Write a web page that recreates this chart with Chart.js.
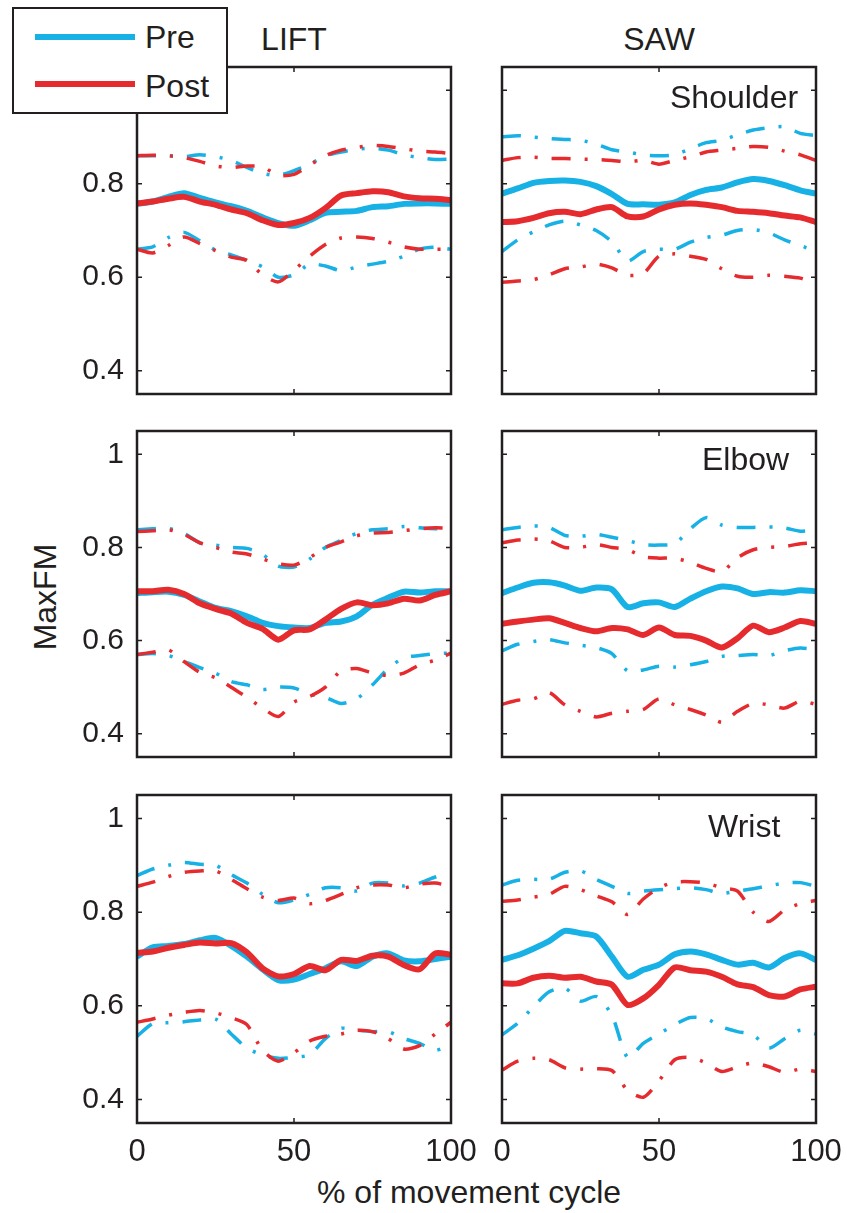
<!DOCTYPE html>
<html>
<head>
<meta charset="utf-8">
<script src="https://cdn.jsdelivr.net/npm/chart.js@4.4.1/dist/chart.umd.min.js"></script>
<style>
  html, body { margin: 0; padding: 0; background: #fff; }
  body { width: 847px; height: 1213px; position: relative; overflow: hidden;
         font-family: "Liberation Sans", Arial, Helvetica, sans-serif; color: #231f20; }
  canvas { position: absolute; }
  .lbl { position: absolute; font-size: 32px; line-height: 32px; white-space: nowrap; }
  .center { text-align: center; width: 300px; }
  #legend { position: absolute; left: 12px; top: 7px; width: 216px; height: 107px;
            box-sizing: border-box; border: 2px solid #231f20; background: #fff; z-index: 5; }
  .swatch { position: absolute; left: 21px; width: 100px; height: 6px; }
</style>
</head>
<body>

<div id="legend">
  <div class="swatch" style="top:25px;background:#17b1e6"></div>
  <div class="lbl" style="left:131px;top:12px">Pre</div>
  <div class="swatch" style="top:72px;background:#e62b2f"></div>
  <div class="lbl" style="left:131px;top:61px">Post</div>
</div>

<div class="lbl center" style="left:144px;top:23px">LIFT</div>
<div class="lbl center" style="left:509px;top:23px">SAW</div>
<div class="lbl" style="left:670px;top:81px;z-index:4">Shoulder</div>
<div class="lbl" style="left:702px;top:443px;z-index:4">Elbow</div>
<div class="lbl" style="left:708px;top:810px;z-index:4">Wrist</div>
<div class="lbl center" style="left:317px;top:1176px">% of movement cycle</div>
<div class="lbl" style="left:45px;top:597px;transform:translate(-50%,-50%) rotate(-90deg)">MaxFM</div>

<script>
const PRE = '#17b1e6'
const POST = '#e62b2f'
const INK = '#231f20'

// x positions (% of movement cycle)
const pct = [0, 5, 10, 15, 20, 25, 30, 35, 40, 45, 50, 55, 60, 65, 70, 75, 80, 85, 90, 95, 100]
const xTicks = [0, 50, 100]
const yTicks = [0.4, 0.6, 0.8, 1]

// LIFT - shoulder
const liftShoulderPreMean = [0.757, 0.762, 0.772, 0.78, 0.77, 0.76, 0.752, 0.742, 0.728, 0.716, 0.71, 0.722, 0.738, 0.74, 0.742, 0.75, 0.752, 0.757, 0.758, 0.758, 0.757]
const liftShoulderPreUp = [0.86, 0.86, 0.86, 0.858, 0.862, 0.858, 0.85, 0.835, 0.822, 0.818, 0.828, 0.842, 0.86, 0.868, 0.874, 0.876, 0.872, 0.862, 0.856, 0.852, 0.853]
const liftShoulderPreLow = [0.66, 0.665, 0.685, 0.696, 0.678, 0.658, 0.648, 0.636, 0.622, 0.6, 0.605, 0.628, 0.624, 0.614, 0.622, 0.628, 0.634, 0.645, 0.66, 0.664, 0.66]
const liftShoulderPostMean = [0.758, 0.762, 0.768, 0.772, 0.762, 0.755, 0.745, 0.737, 0.722, 0.712, 0.716, 0.727, 0.748, 0.775, 0.78, 0.784, 0.782, 0.773, 0.769, 0.768, 0.765]
const liftShoulderPostUp = [0.86, 0.861, 0.86, 0.856, 0.848, 0.838, 0.835, 0.838, 0.836, 0.818, 0.82, 0.84, 0.86, 0.872, 0.878, 0.882, 0.88, 0.875, 0.87, 0.868, 0.865]
const liftShoulderPostLow = [0.66, 0.652, 0.668, 0.686, 0.672, 0.657, 0.643, 0.636, 0.605, 0.59, 0.615, 0.645, 0.67, 0.684, 0.686, 0.683, 0.675, 0.665, 0.66, 0.66, 0.66]

// SAW - shoulder
const sawShoulderPreMean = [0.779, 0.79, 0.802, 0.806, 0.807, 0.804, 0.795, 0.778, 0.757, 0.756, 0.755, 0.76, 0.776, 0.787, 0.792, 0.803, 0.81, 0.806, 0.797, 0.786, 0.779]
const sawShoulderPreUp = [0.9, 0.903, 0.9, 0.897, 0.895, 0.893, 0.885, 0.873, 0.868, 0.862, 0.86, 0.862, 0.875, 0.888, 0.893, 0.905, 0.915, 0.92, 0.922, 0.908, 0.903]
const sawShoulderPreLow = [0.655, 0.68, 0.697, 0.712, 0.72, 0.712, 0.7, 0.676, 0.635, 0.655, 0.66, 0.66, 0.675, 0.685, 0.69, 0.7, 0.702, 0.695, 0.68, 0.668, 0.655]
const sawShoulderPostMean = [0.718, 0.72, 0.727, 0.737, 0.74, 0.735, 0.745, 0.75, 0.73, 0.73, 0.745, 0.755, 0.758, 0.755, 0.75, 0.742, 0.74, 0.737, 0.732, 0.728, 0.718]
const sawShoulderPostUp = [0.85, 0.856, 0.857, 0.854, 0.854, 0.853, 0.852, 0.85, 0.847, 0.85, 0.842, 0.85, 0.858, 0.868, 0.872, 0.876, 0.88, 0.878, 0.87, 0.862, 0.85]
const sawShoulderPostLow = [0.589, 0.592, 0.595, 0.605, 0.618, 0.622, 0.628, 0.62, 0.604, 0.608, 0.645, 0.65, 0.645, 0.638, 0.618, 0.602, 0.6, 0.604, 0.602, 0.598, 0.586]

// LIFT - elbow
const liftElbowPreMean = [0.702, 0.704, 0.705, 0.698, 0.684, 0.67, 0.663, 0.652, 0.638, 0.631, 0.628, 0.627, 0.638, 0.641, 0.652, 0.677, 0.692, 0.705, 0.703, 0.706, 0.706]
const liftElbowPreUp = [0.838, 0.84, 0.841, 0.83, 0.81, 0.805, 0.8, 0.798, 0.785, 0.76, 0.758, 0.775, 0.8, 0.815, 0.83, 0.838, 0.84, 0.845, 0.842, 0.84, 0.841]
const liftElbowPreLow = [0.57, 0.572, 0.568, 0.555, 0.542, 0.53, 0.512, 0.505, 0.495, 0.5, 0.498, 0.485, 0.478, 0.465, 0.475, 0.505, 0.54, 0.563, 0.568, 0.572, 0.573]
const liftElbowPostMean = [0.706, 0.706, 0.709, 0.7, 0.68, 0.668, 0.658, 0.638, 0.625, 0.602, 0.622, 0.624, 0.645, 0.668, 0.682, 0.676, 0.68, 0.69, 0.686, 0.698, 0.706]
const liftElbowPostUp = [0.834, 0.836, 0.838, 0.828, 0.81, 0.8, 0.79, 0.786, 0.775, 0.765, 0.762, 0.778, 0.8, 0.812, 0.825, 0.831, 0.832, 0.836, 0.84, 0.842, 0.841]
const liftElbowPostLow = [0.57, 0.575, 0.58, 0.555, 0.532, 0.52, 0.5, 0.478, 0.455, 0.437, 0.468, 0.48, 0.5, 0.535, 0.54, 0.53, 0.525, 0.53, 0.548, 0.558, 0.573]

// SAW - elbow
const sawElbowPreMean = [0.702, 0.714, 0.724, 0.725, 0.718, 0.707, 0.714, 0.71, 0.672, 0.68, 0.682, 0.672, 0.69, 0.706, 0.716, 0.712, 0.7, 0.704, 0.703, 0.708, 0.706]
const sawElbowPreUp = [0.838, 0.843, 0.846, 0.843, 0.826, 0.824, 0.828, 0.822, 0.815, 0.806, 0.805, 0.808, 0.84, 0.864, 0.848, 0.843, 0.843, 0.844, 0.842, 0.835, 0.838]
const sawElbowPreLow = [0.578, 0.592, 0.598, 0.602, 0.595, 0.59, 0.585, 0.572, 0.535, 0.537, 0.545, 0.543, 0.548, 0.555, 0.566, 0.568, 0.57, 0.568, 0.578, 0.584, 0.58]
const sawElbowPostMean = [0.636, 0.641, 0.645, 0.648, 0.638, 0.627, 0.62, 0.627, 0.624, 0.612, 0.628, 0.612, 0.61, 0.6, 0.585, 0.605, 0.632, 0.618, 0.628, 0.642, 0.636]
const sawElbowPostUp = [0.81, 0.816, 0.818, 0.814, 0.8, 0.8, 0.806, 0.8, 0.795, 0.78, 0.777, 0.777, 0.768, 0.755, 0.748, 0.778, 0.795, 0.8, 0.802, 0.808, 0.81]
const sawElbowPostLow = [0.463, 0.472, 0.475, 0.488, 0.462, 0.448, 0.436, 0.444, 0.448, 0.452, 0.475, 0.462, 0.452, 0.44, 0.425, 0.448, 0.465, 0.462, 0.455, 0.47, 0.463]

// LIFT - wrist
const liftWristPreMean = [0.705, 0.725, 0.728, 0.732, 0.74, 0.745, 0.728, 0.705, 0.678, 0.655, 0.656, 0.668, 0.68, 0.695, 0.685, 0.705, 0.712, 0.697, 0.695, 0.7, 0.705]
const liftWristPreUp = [0.878, 0.892, 0.9, 0.906, 0.902, 0.9, 0.88, 0.862, 0.838, 0.82, 0.826, 0.838, 0.852, 0.852, 0.845, 0.862, 0.862, 0.856, 0.862, 0.875, 0.882]
const liftWristPreLow = [0.535, 0.562, 0.564, 0.566, 0.57, 0.572, 0.54, 0.51, 0.495, 0.488, 0.49, 0.496, 0.53, 0.552, 0.548, 0.545, 0.545, 0.53, 0.52, 0.505, 0.518]
const liftWristPostMean = [0.713, 0.716, 0.724, 0.73, 0.735, 0.733, 0.734, 0.714, 0.68, 0.663, 0.668, 0.685, 0.676, 0.698, 0.696, 0.707, 0.705, 0.687, 0.678, 0.712, 0.709]
const liftWristPostUp = [0.855, 0.864, 0.876, 0.885, 0.888, 0.888, 0.87, 0.85, 0.832, 0.825, 0.83, 0.818, 0.825, 0.838, 0.852, 0.858, 0.858, 0.852, 0.86, 0.862, 0.855]
const liftWristPostLow = [0.565, 0.572, 0.58, 0.586, 0.59, 0.585, 0.575, 0.56, 0.505, 0.482, 0.5, 0.525, 0.535, 0.54, 0.548, 0.545, 0.53, 0.508, 0.515, 0.54, 0.565]

// SAW - wrist
const sawWristPreMean = [0.698, 0.708, 0.722, 0.738, 0.76, 0.755, 0.748, 0.705, 0.662, 0.677, 0.688, 0.71, 0.716, 0.71, 0.698, 0.688, 0.692, 0.682, 0.702, 0.712, 0.698]
const sawWristPreUp = [0.858, 0.868, 0.87, 0.87, 0.885, 0.888, 0.87, 0.855, 0.84, 0.845, 0.848, 0.85, 0.852, 0.848, 0.84, 0.845, 0.85, 0.856, 0.862, 0.863, 0.855]
const sawWristPreLow = [0.538, 0.563, 0.598, 0.63, 0.638, 0.61, 0.62, 0.58, 0.49, 0.52, 0.54, 0.56, 0.575, 0.573, 0.555, 0.545, 0.538, 0.51, 0.53, 0.548, 0.54]
const sawWristPostMean = [0.648, 0.648, 0.66, 0.664, 0.66, 0.662, 0.652, 0.645, 0.602, 0.616, 0.645, 0.682, 0.676, 0.673, 0.662, 0.646, 0.64, 0.623, 0.62, 0.635, 0.641]
const sawWristPostUp = [0.823, 0.826, 0.832, 0.838, 0.855, 0.848, 0.835, 0.822, 0.795, 0.828, 0.852, 0.864, 0.865, 0.862, 0.852, 0.845, 0.8, 0.78, 0.805, 0.818, 0.825]
const sawWristPostLow = [0.463, 0.482, 0.488, 0.485, 0.468, 0.465, 0.466, 0.462, 0.42, 0.405, 0.44, 0.485, 0.49, 0.478, 0.46, 0.47, 0.478, 0.47, 0.458, 0.465, 0.46]

// panel frame on the page (pixels)
const cols = [[137, 451], [502, 816]]
const rows = [[67, 394], [431, 757], [795, 1123]]
const PAD_L = 80, PAD_T = 20, PAD_R = 30, PAD_B = 50

const panels = [
  { col: 0, row: 0, pre: [liftShoulderPreMean, liftShoulderPreUp, liftShoulderPreLow], post: [liftShoulderPostMean, liftShoulderPostUp, liftShoulderPostLow] },
  { col: 1, row: 0, pre: [sawShoulderPreMean, sawShoulderPreUp, sawShoulderPreLow], post: [sawShoulderPostMean, sawShoulderPostUp, sawShoulderPostLow] },
  { col: 0, row: 1, pre: [liftElbowPreMean, liftElbowPreUp, liftElbowPreLow], post: [liftElbowPostMean, liftElbowPostUp, liftElbowPostLow] },
  { col: 1, row: 1, pre: [sawElbowPreMean, sawElbowPreUp, sawElbowPreLow], post: [sawElbowPostMean, sawElbowPostUp, sawElbowPostLow] },
  { col: 0, row: 2, pre: [liftWristPreMean, liftWristPreUp, liftWristPreLow], post: [liftWristPostMean, liftWristPostUp, liftWristPostLow] },
  { col: 1, row: 2, pre: [sawWristPreMean, sawWristPreUp, sawWristPreLow], post: [sawWristPostMean, sawWristPostUp, sawWristPostLow] }
]

const toPoints = arr => pct.map((x, i) => ({ x, y: arr[i] }))

const lineSet = (arr, color, isMean, order) => ({
  data: toPoints(arr),
  borderColor: color,
  borderWidth: isMean ? 6 : 3.5,
  borderDash: isMean ? [] : [19, 14, 3, 14],
  borderCapStyle: 'butt',
  pointRadius: 0,
  tension: 0.25,
  fill: false,
  order
})

// box round the axes with small inward ticks, like the original figure
const framePlugin = {
  id: 'frame',
  afterDatasetsDraw(chart) {
    const { ctx, chartArea: a, scales: { x, y } } = chart
    ctx.save()
    ctx.strokeStyle = INK
    ctx.lineWidth = 1.5
    ctx.beginPath()
    yTicks.forEach(v => {
      const py = y.getPixelForValue(v)
      ctx.moveTo(a.left, py); ctx.lineTo(a.left + 5, py)
      ctx.moveTo(a.right, py); ctx.lineTo(a.right - 5, py)
    })
    xTicks.forEach(v => {
      const px = x.getPixelForValue(v)
      ctx.moveTo(px, a.bottom); ctx.lineTo(px, a.bottom - 5)
      ctx.moveTo(px, a.top); ctx.lineTo(px, a.top + 5)
    })
    ctx.stroke()
    ctx.lineWidth = 2.5
    ctx.strokeRect(a.left, a.top, a.width, a.height)
    ctx.restore()
  }
}

panels.forEach(p => {
  const [x0, x1] = cols[p.col]
  const [y0, y1] = rows[p.row]
  const w = x1 - x0 + PAD_L + PAD_R
  const h = y1 - y0 + PAD_T + PAD_B

  const canvas = document.createElement('canvas')
  canvas.width = w
  canvas.height = h
  canvas.style.left = (x0 - PAD_L) + 'px'
  canvas.style.top = (y0 - PAD_T) + 'px'
  canvas.style.width = w + 'px'
  canvas.style.height = h + 'px'
  document.body.appendChild(canvas)

  const datasets = [
    lineSet(p.post[0], POST, true, 0),
    lineSet(p.post[1], POST, false, 1),
    lineSet(p.post[2], POST, false, 1),
    lineSet(p.pre[0], PRE, true, 2),
    lineSet(p.pre[1], PRE, false, 3),
    lineSet(p.pre[2], PRE, false, 3)
  ]

  new Chart(canvas.getContext('2d'), {
    type: 'line',
    data: { datasets },
    plugins: [framePlugin],
    options: {
      responsive: false,
      animation: false,
      devicePixelRatio: 1,
      layout: { padding: { left: 0, top: PAD_T, right: PAD_R, bottom: 0 } },
      plugins: { legend: { display: false }, tooltip: { enabled: false } },
      scales: {
        x: {
          type: 'linear',
          min: 0,
          max: 100,
          grid: { display: false },
          border: { display: false },
          afterBuildTicks: s => { s.ticks = xTicks.map(v => ({ value: v })) },
          afterFit: s => { s.height = PAD_B; s.paddingLeft = 0; s.paddingRight = 0 },
          ticks: {
            display: p.row === 2,
            maxRotation: 0,
            padding: 3,
            color: INK,
            font: { family: '"Liberation Sans", Arial, sans-serif', size: 31 }
          }
        },
        y: {
          type: 'linear',
          min: 0.35,
          max: 1.05,
          grid: { display: false },
          border: { display: false },
          afterBuildTicks: s => { s.ticks = yTicks.map(v => ({ value: v })) },
          afterFit: s => { s.width = PAD_L; s.paddingTop = 0; s.paddingBottom = 0 },
          ticks: {
            display: p.col === 0,
            padding: 5,
            color: INK,
            font: { family: '"Liberation Sans", Arial, sans-serif', size: 30 },
            callback: v => (v === 1 ? '1' : v.toFixed(1))
          }
        }
      }
    }
  })
})
</script>
</body>
</html>
